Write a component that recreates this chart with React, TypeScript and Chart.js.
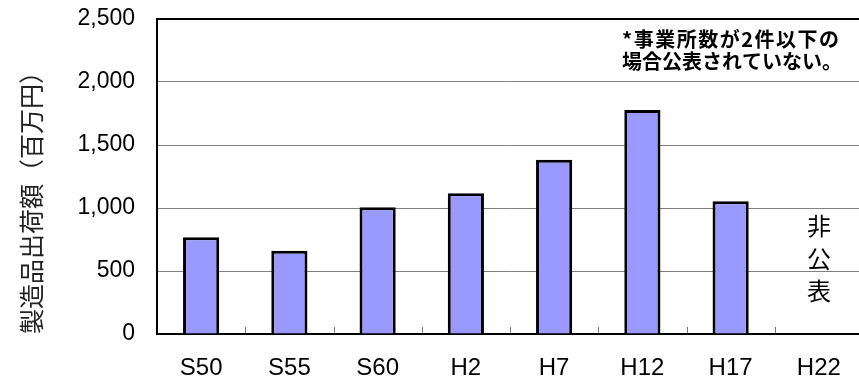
import React, { useEffect, useRef } from "react";
import { Chart, registerables } from "chart.js";

Chart.register(...registerables);

const categories = ["S50", "S55", "S60", "H2", "H7", "H12", "H17", "H22"];
const shipmentValues: (number | null)[] = [767, 661, 1005, 1117, 1383, 1778, 1053, null];
const yMax = 2500;
const yStep = 500;
const yTitle = "製造品出荷額（百万円）";
const noteLines = ["*事業所数が2件以下の", "場合公表されていない。"];
const undisclosedChars = ["非", "公", "表"];

const CANVAS_W = 870;
const CANVAS_H = 379;

const overlayPlugin = {
  id: "overlay",
  afterDraw(chart: any) {
    const { ctx, chartArea, scales } = chart;
    const x = scales.x;
    ctx.save();
    // inner tick marks between categories
    const n = categories.length;
    const half = (chartArea.right - chartArea.left) / n / 2;
    ctx.strokeStyle = "#777";
    ctx.lineWidth = 1;
    for (let i = 0; i < n - 1; i++) {
      const px = Math.round(x.getPixelForValue(i) + half) + 0.5;
      ctx.beginPath();
      ctx.moveTo(px, chartArea.bottom - 7);
      ctx.lineTo(px, chartArea.bottom - 1);
      ctx.stroke();
    }
    // note text
    ctx.fillStyle = "#000";
    ctx.font = "bold 20px 'Noto Sans CJK JP'";
    ctx.textAlign = "left";
    ctx.textBaseline = "middle";
    noteLines.forEach((line, i) => {
      (ctx as any).letterSpacing = i === 0 ? "1.5px" : "0px";
      ctx.fillText(line, 622, 39 + i * 22);
    });
    (ctx as any).letterSpacing = "0px";
    // undisclosed vertical text
    const cx = x.getPixelForValue(n - 1);
    ctx.font = "24px 'Noto Sans CJK JP'";
    ctx.textAlign = "center";
    undisclosedChars.forEach((ch, i) => {
      ctx.fillText(ch, cx, 226 + i * 32.5);
    });
    ctx.restore();
  },
};

export default function App() {
  const ref = useRef<HTMLCanvasElement | null>(null);
  useEffect(() => {
    document.body.style.margin = "0";
    document.body.style.overflow = "hidden";
    document.documentElement.style.overflow = "hidden";
    if (!ref.current) return;
    const chart = new Chart(ref.current, {
      type: "bar",
      data: {
        labels: categories,
        datasets: [
          {
            data: shipmentValues,
            backgroundColor: "#9999FF",
            borderColor: "#000000",
            borderWidth: 3,
            barPercentage: 0.41,
            categoryPercentage: 1,
          },
        ],
      },
      options: {
        responsive: false,
        animation: false,
        layout: { padding: { top: 19, right: 7, left: 0, bottom: 0 } },
        plugins: {
          legend: { display: false },
          tooltip: { enabled: false },
        },
        scales: {
          x: {
            grid: { display: false, drawTicks: false },
            border: { display: true, color: "#000", width: 2 },
            ticks: {
              color: "#000",
              font: { family: "'Liberation Sans', Arial, sans-serif", size: 24 },
              padding: 20,
              maxRotation: 0,
              autoSkip: false,
            },
            afterFit(scale: any) {
              scale.height = 45;
              scale.paddingLeft = 0;
              scale.paddingRight = 0;
            },
          },
          y: {
            min: 0,
            max: yMax,
            ticks: {
              stepSize: yStep,
              color: "#000",
              font: { family: "'Liberation Sans', Arial, sans-serif", size: 23 },
              padding: 22,
              callback: (v: any) => Number(v).toLocaleString("en-US"),
            },
            grid: {
              drawTicks: false,
              color: (c: any) =>
                c.tick && c.tick.value === yMax ? "#000" : c.tick && c.tick.value === 0 ? "rgba(0,0,0,0)" : "#808080",
              lineWidth: (c: any) => (c.tick && c.tick.value === yMax ? 2 : 1),
            },
            border: { display: true, color: "#000", width: 2 },
            title: {
              display: true,
              text: yTitle,
              align: "start",
              color: "#222",
              font: { family: "'Noto Sans CJK JP'", size: 25, weight: "normal" },
              padding: { top: 16, bottom: 0 },
            },
            afterFit(scale: any) {
              scale.width = 157;
              scale.paddingTop = 0;
              scale.paddingBottom = 0;
            },
          },
        },
      },
      plugins: [overlayPlugin],
    } as any);
    return () => chart.destroy();
  }, []);
  return (
    <div style={{ width: CANVAS_W, height: CANVAS_H, overflow: "hidden" }}>
      <canvas ref={ref} width={CANVAS_W} height={CANVAS_H} style={{ display: "block" }} />
    </div>
  );
}
